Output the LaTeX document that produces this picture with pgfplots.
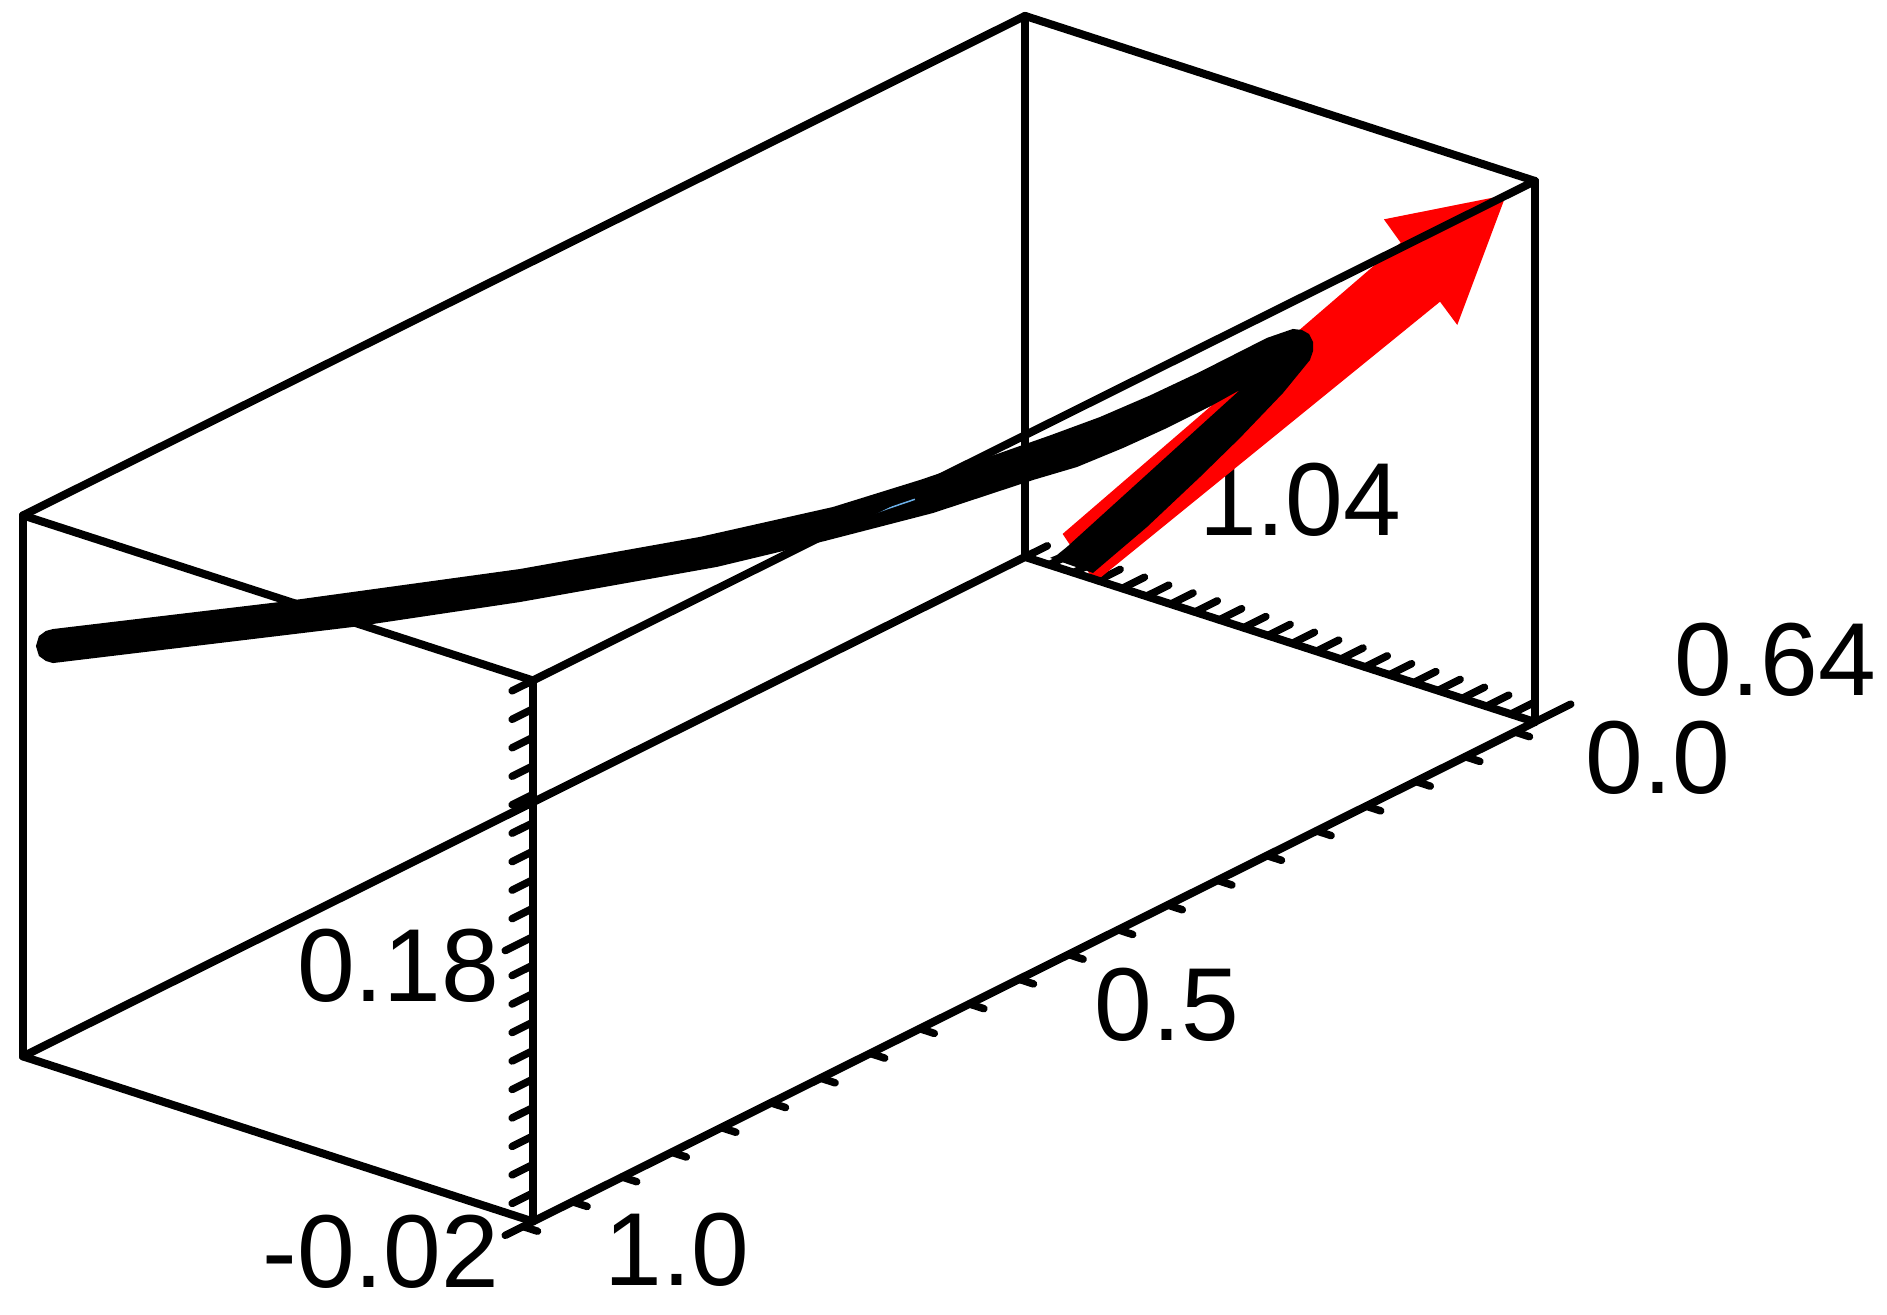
\documentclass[border=0pt]{standalone}
\usepackage{fontspec}
\setmainfont{Liberation Sans}
\usepackage{pgfplots}
\pgfplotsset{compat=1.18}

\definecolor{thinblue}{RGB}{108,176,232}

\begin{document}
\begin{tikzpicture}[
    tl/.style={font=\fontsize{41.5}{41.5}\selectfont, inner sep=0pt, anchor=center},
]
\path[use as bounding box] (0,0) rectangle (754.8pt,525.6pt);
\begin{axis}[
    at={(614pt,248.2pt)}, anchor=origin,
    x={(-400.8pt,-199.8pt)}, y={(-485.7pt,157.2pt)}, z={(0pt,569.5pt)},
    disabledatascaling,
    xmin=0, xmax=1, ymin=0.64, ymax=1.06, zmin=-0.02, zmax=0.36,
    clip=false,
    axis on top,
    axis lines=box,
    3d box=complete,
    axis line style={line width=3.2pt, line cap=round, line join=round},
    ticks=none,
    tk/.style={black, line width=3pt, line cap=round},
]
% tick labels
\node[tl] at (axis cs:0,1.04,-0.02) [xshift=100.3pt, yshift=26pt] {1.04};
\node[tl] at (axis cs:0,0.64,-0.02) [xshift=96pt, yshift=25pt] {0.64};
\node[tl] at (axis cs:0,0.64,-0.02) [xshift=49.2pt, yshift=-14.5pt] {0.0};
\node[tl] at (axis cs:0.5,0.64,-0.02) [xshift=53.2pt, yshift=-13.3pt] {0.5};
\node[tl] at (axis cs:1,0.64,-0.02) [xshift=57.5pt, yshift=-11.4pt] {1.0};
\node[tl, anchor=east] at (axis cs:1,0.64,-0.02) [xshift=-13.4pt, yshift=-12pt] {-0.02};
\node[tl, anchor=east] at (axis cs:1,0.64,0.18) [xshift=-13.4pt, yshift=-11.8pt] {0.18};
% ticks on the x edge, pointing along -y
\pgfplotsinvokeforeach{0.02,0.0695,0.119,0.1685,0.218,0.2675,0.317,0.3665,0.416,0.4655,0.515,0.5645,0.614,0.6635,0.713,0.7625,0.812,0.8615,0.911,0.9605,1.01}{
    \addplot3[tk] coordinates {(#1,0.64,-0.02) (#1,0.628,-0.02)};
}
% ticks on the y edge, pointing along -x
\pgfplotsinvokeforeach{0.66,0.68,0.70,0.72,0.74,0.76,0.78,0.80,0.82,0.84,0.86,0.88,0.90,0.92,0.94,0.96,0.98,1.00,1.02,1.04,1.06}{
    \addplot3[tk] coordinates {(0,#1,-0.02) (-0.0223,#1,-0.02)};
}
\addplot3[tk] coordinates {(0,0.64,-0.02) (-0.0357,0.64,-0.02)};
% ticks on the z edge, pointing along +x
\pgfplotsinvokeforeach{0,0.02,0.04,0.06,0.08,0.10,0.12,0.14,0.16,0.20,0.22,0.24,0.26,0.28,0.30,0.32,0.34,0.36}{
    \addplot3[tk] coordinates {(1,0.64,#1) (1.0208,0.64,#1)};
}
\addplot3[tk] coordinates {(1,0.64,-0.02) (1.0277,0.64,-0.02)};
\addplot3[tk] coordinates {(1,0.64,0.18) (1.0277,0.64,0.18)};
% red arrow, in the plane x=0
\addplot3[fill=red, draw=none] coordinates {
    (0,1.0290,0.0047) (0,0.7506,0.2861) (0,0.7644,0.2987) (0,0.6639,0.3435)
    (0,0.7040,0.2412) (0,0.7182,0.2536) (0,1.0023,-0.0217)
} -- cycle;
% black tube, outline of the projected curve
\addplot3[fill=black, draw=none] coordinates {
    (1.009,1.0419,0.2764) (1.0066,1.0414,0.2827) (1.0011,1.0402,0.2847) (0.9955,1.0390,0.2844)
    (0.8158,1.0004,0.2510) (0.6258,0.9595,0.2188) (0.4833,0.9289,0.1998)
    (0.3780,0.9063,0.1901) (0.3091,0.8915,0.1890) (0.2458,0.8778,0.1895) (0.2062,0.8693,0.1903)
    (0.1666,0.8608,0.1917) (0.1270,0.8523,0.1953)
    (0.0874,0.8438,0.2003) (0.0344,0.8324,0.2087) (0.0138,0.8280,0.2090)
    (0.0067,0.8264,0.2062) (0.0011,0.8252,0.2018) (0,0.8228,0.1965) (0,0.8228,0.1901)
    (0,0.8253,0.1831) (0,0.8475,0.1538) (0,0.8829,0.1125)
    (0,0.9159,0.0759) (0,0.9595,0.0288) (0,1.0040,-0.0158) (0,1.0394,-0.0150) (0,1.0336,-0.0113)
    (0,1.0254,-0.0034) (0,0.8829,0.1462)
    (0.0771,0.8416,0.1741) (0.1135,0.8494,0.1685) (0.1484,0.8569,0.1646) (0.1848,0.8647,0.1619)
    (0.2196,0.8722,0.1629) (0.2988,0.8892,0.1628) (0.3843,0.9076,0.1681) (0.4698,0.9260,0.1748)
    (0.6258,0.9595,0.1956) (0.7580,0.9880,0.2166) (0.9955,1.0390,0.2605)
    (1.0011,1.0402,0.2636) (1.0066,1.0414,0.2687)
} -- cycle;
% thin blue series, mostly hidden
\addplot3[color=thinblue, line width=0.6pt] coordinates {
    (0.3613,0.9027,0.1761) (0.3131,0.8923,0.1766)
};
\end{axis}
\end{tikzpicture}
\end{document}
